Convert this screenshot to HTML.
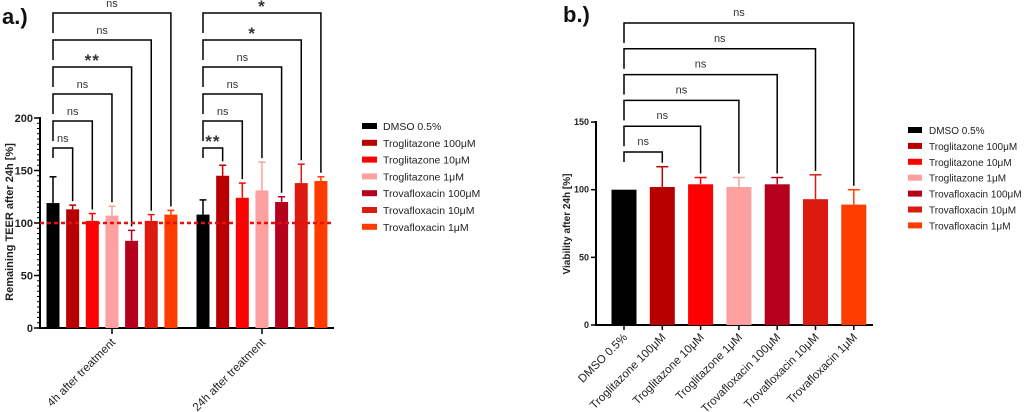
<!DOCTYPE html>
<html><head><meta charset="utf-8"><style>
body{margin:0;background:#fff;width:1024px;height:412px;overflow:hidden}
svg{display:block;font-family:"Liberation Sans",sans-serif}
</style></head><body>
<svg id="s" width="1024" height="412" viewBox="0 0 1024 412"></svg>
<script>
const names=["DMSO 0.5%","Troglitazone 100μM","Troglitazone 10μM","Troglitazone 1μM","Trovafloxacin 100μM","Trovafloxacin 10μM","Trovafloxacin 1μM"];
const colors=["#000000","#b80000","#ff0000","#ffa0a0","#b5001e","#dd1a10","#ff3c00"];
const groupsA=["4h after treatment","24h after treatment"];
const meanA1=[119,113,102,107,83,102,108];
const errA1=[25,4,7,9,10,6,4];
const meanA2=[108,145,124,131,120,138,140];
const errA2=[14,10,14,27,5,18,4];
const sigA1=["ns","ns","ns","**","ns","ns"];
const sigA2=["**","ns","ns","ns","*","*"];
const ticksA=[0,50,100,150,200];
const meanB=[100,102,104,102,104,93,89];
const errB=[0,15,5,7,5,18,11];
const sigB=["ns","ns","ns","ns","ns","ns"];
const ticksB=[0,50,100,150];

const S=document.getElementById('s');const NS="http://www.w3.org/2000/svg";
function el(t,a,txt){const e=document.createElementNS(NS,t);for(const k in a)e.setAttribute(k,a[k]);if(txt!==undefined)e.textContent=txt;S.appendChild(e);return e;}
function sigText(x,y,s){const star=s.indexOf('*')>=0;
 return el('text',{x:x,y:star?y+5:y,'font-size':star?17:11,'font-weight':star?'bold':'normal','text-anchor':'middle',fill:'#333','letter-spacing':star?1:0},s);}

// ---- chart a ----
const yA=v=>328-v*1.05;
const xA=(g,i)=>53+g*150+i*19.65;
let e;
e=el('text',{x:2,y:24,'font-size':22,'font-weight':'bold',fill:'#111'},'a.)');

e=el('line',{x1:40,y1:117,x2:40,y2:328.5,stroke:'#000','stroke-width':2});

e=el('line',{x1:39,y1:328,x2:334,y2:328,stroke:'#000','stroke-width':2});

for(let v=0;v<=200;v+=5){el('line',{x1:37,y1:yA(v),x2:40,y2:yA(v),stroke:'#000','stroke-width':1});}
ticksA.forEach(v=>{el('line',{x1:34,y1:yA(v),x2:40,y2:yA(v),stroke:'#000','stroke-width':1.5});
 e=el('text',{x:33,y:yA(v)+4,'font-size':11,'font-weight':'bold','text-anchor':'end',fill:'#222'},v);
 });
e=el('text',{x:13,y:222,'font-size':11,'font-weight':'bold',fill:'#222',transform:'rotate(-90 13 222)','text-anchor':'middle'},'Remaining  TEER after 24h [%]');

groupsA.forEach((g,gi)=>{const cx=112+gi*150;
 el('line',{x1:cx,y1:328,x2:cx,y2:334,stroke:'#000','stroke-width':1.5});
 e=el('text',{x:cx+4,y:343,'font-size':11.5,fill:'#222','text-anchor':'end',transform:`rotate(-45 ${cx+4} 343)`},g);
 });
[[meanA1,errA1,sigA1],[meanA2,errA2,sigA2]].forEach(([m,er,sg],gi)=>{
 m.forEach((v,i)=>{const x=xA(gi,i),c=colors[i];
  e=el('rect',{x:x-6.5,y:yA(v),width:13,height:328-yA(v),fill:c});
  
  el('line',{x1:x,y1:yA(v),x2:x,y2:yA(v+er[i]),stroke:c,'stroke-width':1.5});
  el('line',{x1:x-3.5,y1:yA(v+er[i]),x2:x+3.5,y2:yA(v+er[i]),stroke:c,'stroke-width':1.5});
 });
 sg.forEach((s,k)=>{const by=148-k*27,x0=xA(gi,0),x1=xA(gi,k+1),tgt=yA(m[k+1]+er[k+1])-4;
  const ly=k==0?by+10:by+20;
  e=el('path',{d:`M${x0} ${ly}V${by}H${x1}V${tgt}`,fill:'none',stroke:'#000','stroke-width':1.5});
  
  e=sigText((x0+x1)/2,by-6,s);
  
 });
});
e=el('line',{x1:40,y1:yA(100),x2:334,y2:yA(100),stroke:'#e41010','stroke-width':2.5,'stroke-dasharray':'4,3'});

names.forEach((n,i)=>{const y=126+i*16.8;
 e=el('rect',{x:362,y:y-3,width:15,height:6,fill:colors[i]});
 
 e=el('text',{x:383,y:y+4,'font-size':10.5,fill:'#222'},n);
 });

// ---- chart b ----
const yB=v=>325-v*1.353;
const xB=i=>624+i*38.3;
e=el('text',{x:563,y:22,'font-size':22,'font-weight':'bold',fill:'#111'},'b.)');

e=el('line',{x1:596,y1:121,x2:596,y2:325.5,stroke:'#000','stroke-width':2});

e=el('line',{x1:595,y1:325,x2:873,y2:325,stroke:'#000','stroke-width':2});

ticksB.forEach(v=>{el('line',{x1:591,y1:yB(v),x2:596,y2:yB(v),stroke:'#000','stroke-width':1.5});
 e=el('text',{x:589,y:yB(v)+3,'font-size':9,'font-weight':'bold','text-anchor':'end',fill:'#222'},v);
 });
e=el('text',{x:570,y:224,'font-size':10,'font-weight':'bold',fill:'#222',transform:'rotate(-90 570 224)','text-anchor':'middle'},'Viability after 24h [%]');

meanB.forEach((v,i)=>{const x=xB(i),c=colors[i];
 e=el('rect',{x:x-12.5,y:yB(v),width:25,height:325-yB(v),fill:c});
 
 if(errB[i]>0){el('line',{x1:x,y1:yB(v),x2:x,y2:yB(v+errB[i]),stroke:c,'stroke-width':1.5});
 el('line',{x1:x-6,y1:yB(v+errB[i]),x2:x+6,y2:yB(v+errB[i]),stroke:c,'stroke-width':1.5});}
 el('line',{x1:x,y1:325,x2:x,y2:330,stroke:'#000','stroke-width':1.5});
 e=el('text',{x:x+4,y:338,'font-size':11.5,fill:'#222','text-anchor':'end',transform:`rotate(-45 ${x+4} 338)`},names[i]);
 });
sigB.forEach((s,k)=>{const by=152-k*25.8,x0=xB(0),x1=xB(k+1),tgt=yB(meanB[k+1]+errB[k+1])-4;
 const ly=k==0?by+10:by+20;
 e=el('path',{d:`M${x0} ${ly}V${by}H${x1}V${tgt}`,fill:'none',stroke:'#000','stroke-width':1.5});
 
 e=sigText((x0+x1)/2,by-7,s);
 });
names.forEach((n,i)=>{const y=130+i*15.9;
 e=el('rect',{x:908,y:y-3,width:14,height:6,fill:colors[i]});
 
 e=el('text',{x:929,y:y+4,'font-size':10,fill:'#222'},n);
 });
</script>
</body></html>
